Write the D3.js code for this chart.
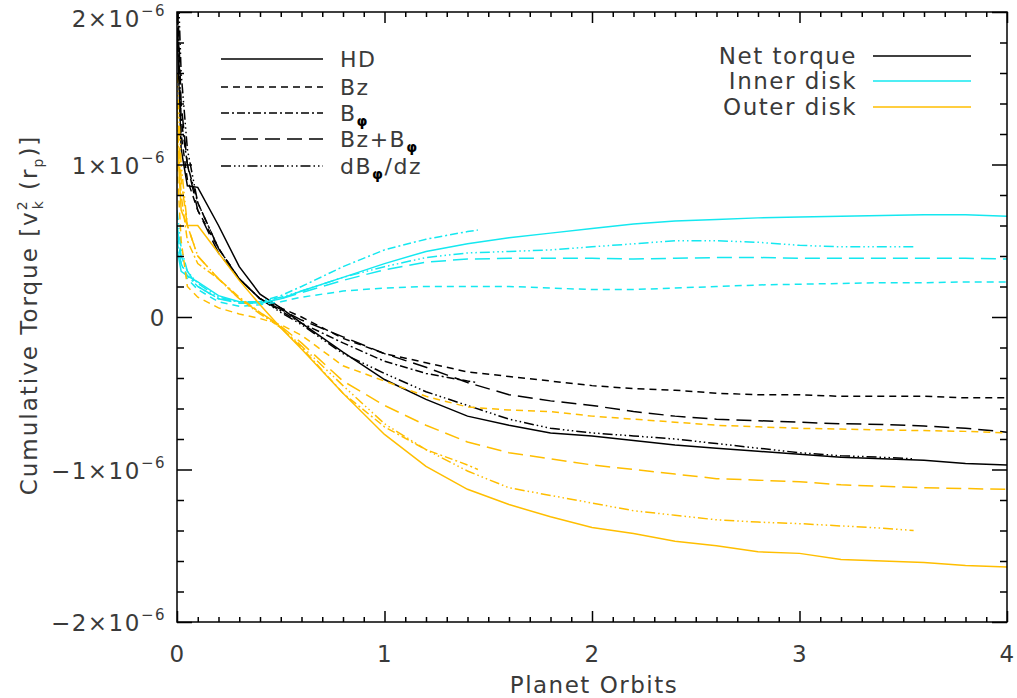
<!DOCTYPE html>
<html>
<head>
<meta charset="utf-8">
<script src="https://cdn.jsdelivr.net/npm/d3@7"></script>
<style>
  body { margin: 0; background: #fff; }
  text { font-family: "DejaVu Sans", sans-serif; fill: #3a3a3a; letter-spacing: 1.5px; }
</style>
</head>
<body>
<div id="chart"></div>
<script>
// time axis (planet orbits) for each run length
var tFull = [0, 0.02, 0.05, 0.1, 0.2, 0.3, 0.4, 0.5, 0.6, 0.8, 1.0, 1.2, 1.4, 1.6, 1.8, 2.0, 2.2, 2.4, 2.6, 2.8, 3.0, 3.2, 3.4, 3.6, 3.8, 4.0];
var tBphi = [0, 0.02, 0.05, 0.1, 0.2, 0.3, 0.4, 0.5, 0.6, 0.8, 1.0, 1.2, 1.4, 1.45];
var tDbdz = [0, 0.02, 0.05, 0.1, 0.2, 0.3, 0.4, 0.5, 0.6, 0.8, 1.0, 1.2, 1.4, 1.6, 1.8, 2.0, 2.2, 2.4, 2.6, 2.8, 3.0, 3.2, 3.4, 3.55];

// cumulative torque, units of 1e-6
// net torque
var hdNet = [1.9, 1.1, 0.86, 0.85, 0.6, 0.33, 0.15, 0.06, -0.04, -0.23, -0.41, -0.54, -0.65, -0.71, -0.76, -0.78, -0.81, -0.84, -0.86, -0.88, -0.90, -0.92, -0.93, -0.94, -0.96, -0.97];
var bzNet = [2.2, 1.2, 0.9, 0.7, 0.45, 0.25, 0.12, 0.06, 0.0, -0.14, -0.24, -0.30, -0.36, -0.39, -0.42, -0.45, -0.47, -0.48, -0.50, -0.51, -0.51, -0.52, -0.52, -0.52, -0.53, -0.53];
var bphiNet = [2.0, 1.3, 1.0, 0.75, 0.45, 0.25, 0.12, 0.04, -0.04, -0.17, -0.29, -0.37, -0.42, -0.43];
var bzbphiNet = [2.2, 1.4, 1.0, 0.7, 0.42, 0.25, 0.12, 0.05, -0.02, -0.13, -0.24, -0.33, -0.43, -0.51, -0.55, -0.58, -0.62, -0.65, -0.67, -0.68, -0.69, -0.70, -0.705, -0.715, -0.73, -0.755];
var dbdzNet = [2.4, 1.6, 1.1, 0.75, 0.45, 0.25, 0.12, 0.03, -0.05, -0.24, -0.37, -0.49, -0.58, -0.67, -0.73, -0.76, -0.78, -0.80, -0.83, -0.86, -0.89, -0.91, -0.92, -0.93];
// inner disk
var hdIn = [0.45, 0.3, 0.27, 0.23, 0.14, 0.10, 0.09, 0.12, 0.17, 0.26, 0.35, 0.43, 0.48, 0.52, 0.55, 0.58, 0.61, 0.63, 0.64, 0.65, 0.655, 0.66, 0.665, 0.67, 0.67, 0.66];
var bzIn = [0.6, 0.35, 0.25, 0.18, 0.10, 0.07, 0.08, 0.10, 0.13, 0.17, 0.19, 0.20, 0.20, 0.20, 0.19, 0.18, 0.18, 0.19, 0.20, 0.21, 0.215, 0.22, 0.225, 0.225, 0.23, 0.23];
var bphiIn = [0.5, 0.35, 0.27, 0.2, 0.12, 0.10, 0.10, 0.14, 0.20, 0.33, 0.44, 0.51, 0.56, 0.57];
var bzbphiIn = [0.6, 0.4, 0.3, 0.2, 0.12, 0.09, 0.09, 0.12, 0.16, 0.24, 0.31, 0.36, 0.38, 0.385, 0.385, 0.385, 0.38, 0.385, 0.39, 0.39, 0.385, 0.385, 0.385, 0.385, 0.385, 0.38];
var dbdzIn = [0.7, 0.45, 0.3, 0.22, 0.13, 0.10, 0.10, 0.13, 0.17, 0.26, 0.33, 0.39, 0.42, 0.43, 0.44, 0.46, 0.48, 0.50, 0.50, 0.49, 0.47, 0.46, 0.46, 0.46];
// outer disk
var hdOut = [1.2, 0.7, 0.6, 0.6, 0.42, 0.24, 0.08, -0.07, -0.21, -0.50, -0.77, -0.98, -1.13, -1.23, -1.31, -1.38, -1.42, -1.47, -1.50, -1.54, -1.55, -1.59, -1.60, -1.61, -1.63, -1.64];
var bzOut = [1.0, 0.5, 0.2, 0.13, 0.06, 0.02, -0.01, -0.05, -0.12, -0.32, -0.42, -0.52, -0.59, -0.61, -0.62, -0.65, -0.67, -0.69, -0.71, -0.72, -0.73, -0.735, -0.74, -0.745, -0.75, -0.76];
var bphiOut = [1.3, 0.8, 0.5, 0.35, 0.25, 0.13, 0.03, -0.07, -0.2, -0.5, -0.72, -0.87, -0.97, -1.0];
var bzbphiOut = [1.4, 0.9, 0.6, 0.4, 0.25, 0.12, 0.03, -0.06, -0.17, -0.42, -0.58, -0.71, -0.82, -0.89, -0.93, -0.97, -1.00, -1.03, -1.06, -1.07, -1.08, -1.10, -1.11, -1.12, -1.125, -1.13];
var dbdzOut = [1.6, 1.0, 0.6, 0.4, 0.25, 0.12, 0.02, -0.07, -0.19, -0.45, -0.70, -0.87, -1.01, -1.12, -1.17, -1.22, -1.27, -1.30, -1.33, -1.345, -1.355, -1.37, -1.385, -1.40];

var xMajor = [0, 1, 2, 3, 4];
var yMajor = [-2, -1, 0, 1, 2];
var yLabels = ["\u22122\u00d710", "\u22121\u00d710", "0", "1\u00d710", "2\u00d710"];

var colBlack = "#000000", colCyan = "#14e8f0", colOrange = "#ffbe00";
var dashes = { hd: null, bz: "7,5", bphi: "8,3,2,3", bzbphi: "15,7", dbdz: "10,3,1.5,3,1.5,3,1.5,3" };

var series = [
  { t: tFull, v: hdNet, c: colBlack, d: dashes.hd },
  { t: tFull, v: bzNet, c: colBlack, d: dashes.bz },
  { t: tBphi, v: bphiNet, c: colBlack, d: dashes.bphi },
  { t: tFull, v: bzbphiNet, c: colBlack, d: dashes.bzbphi },
  { t: tDbdz, v: dbdzNet, c: colBlack, d: dashes.dbdz },
  { t: tFull, v: hdIn, c: colCyan, d: dashes.hd },
  { t: tFull, v: bzIn, c: colCyan, d: dashes.bz },
  { t: tBphi, v: bphiIn, c: colCyan, d: dashes.bphi },
  { t: tFull, v: bzbphiIn, c: colCyan, d: dashes.bzbphi },
  { t: tDbdz, v: dbdzIn, c: colCyan, d: dashes.dbdz },
  { t: tFull, v: hdOut, c: colOrange, d: dashes.hd },
  { t: tFull, v: bzOut, c: colOrange, d: dashes.bz },
  { t: tBphi, v: bphiOut, c: colOrange, d: dashes.bphi },
  { t: tFull, v: bzbphiOut, c: colOrange, d: dashes.bzbphi },
  { t: tDbdz, v: dbdzOut, c: colOrange, d: dashes.dbdz }
];

// set the dimensions and margins of the graph
var margin = { top: 12, right: 10, bottom: 76, left: 177 },
  width = 1017 - margin.left - margin.right,
  height = 698 - margin.top - margin.bottom;

var root = d3.select("#chart")
  .append("svg")
  .attr("width", 1017)
  .attr("height", 698);

var svg = root.append("g")
  .attr("transform", "translate(" + margin.left + "," + margin.top + ")");

var x = d3.scaleLinear().domain([0, 4]).range([0, width]);
var y = d3.scaleLinear().domain([-2, 2]).range([height, 0]);

svg.append("clipPath").attr("id", "clip")
  .append("rect").attr("width", width).attr("height", height);

// curves
var line = d3.line()
  .x(function (d) { return x(d[0]); })
  .y(function (d) { return y(d[1]); });

svg.append("g").attr("clip-path", "url(#clip)")
  .selectAll("path")
  .data(series)
  .enter()
  .append("path")
  .attr("d", function (s) { return line(s.t.map(function (t, i) { return [t, s.v[i]]; })); })
  .attr("fill", "none")
  .attr("stroke", function (s) { return s.c; })
  .attr("stroke-width", 1.5)
  .attr("stroke-dasharray", function (s) { return s.d; });

// ticks on all four sides (inward)
var xMinor = d3.range(0, 41).filter(function (i) { return i % 10 !== 0; }).map(function (i) { return i / 10; });
var yMinor = d3.range(-10, 11).filter(function (i) { return i % 5 !== 0; }).map(function (i) { return i / 5; });

function styleAxis(g) {
  g.select(".domain").remove();
  g.selectAll(".tick line").attr("stroke", "#000").attr("stroke-width", 1.5);
  g.attr("font-family", null).attr("font-size", null);
}

svg.append("g").attr("transform", "translate(0," + height + ")")
  .call(d3.axisBottom(x).tickValues(xMajor).tickSize(-11).tickPadding(24).tickFormat(d3.format("d")))
  .call(styleAxis);
svg.append("g").attr("transform", "translate(0," + height + ")")
  .call(d3.axisBottom(x).tickValues(xMinor).tickSize(-5).tickFormat(""))
  .call(styleAxis);
svg.append("g")
  .call(d3.axisTop(x).tickValues(xMajor).tickSize(-11).tickFormat(""))
  .call(styleAxis);
svg.append("g")
  .call(d3.axisTop(x).tickValues(xMinor).tickSize(-5).tickFormat(""))
  .call(styleAxis);

var yAxis = svg.append("g")
  .call(d3.axisLeft(y).tickValues(yMajor).tickSize(-15).tickPadding(11).tickFormat(""))
  .call(styleAxis);
svg.append("g")
  .call(d3.axisLeft(y).tickValues(yMinor).tickSize(-7).tickFormat(""))
  .call(styleAxis);
svg.append("g").attr("transform", "translate(" + width + ",0)")
  .call(d3.axisRight(y).tickValues(yMajor).tickSize(-15).tickFormat(""))
  .call(styleAxis);
svg.append("g").attr("transform", "translate(" + width + ",0)")
  .call(d3.axisRight(y).tickValues(yMinor).tickSize(-7).tickFormat(""))
  .call(styleAxis);

svg.selectAll(".tick text").style("font-size", "23px").attr("fill", null);

// y labels with exponent
yAxis.selectAll(".tick text").each(function (d, i) {
  var t = d3.select(this).text(null).attr("dy", d === 2 ? "0.62em" : "0.38em");
  t.append("tspan").text(yLabels[i]);
  if (d !== 0) {
    t.append("tspan").text("\u22126").style("font-size", "15px").attr("dy", "-11");
  }
});

// frame
svg.append("rect")
  .attr("width", width).attr("height", height)
  .attr("fill", "none").attr("stroke", "#000").attr("stroke-width", 1.5);

// axis titles
root.append("text")
  .attr("x", 594).attr("y", 693)
  .attr("text-anchor", "middle")
  .style("font-size", "23px")
  .text("Planet Orbits");

var yt = root.append("text")
  .attr("transform", "translate(37,315) rotate(-90)")
  .attr("text-anchor", "middle")
  .style("font-size", "23px")
  .style("letter-spacing", "2px");
yt.append("tspan").text("Cumulative Torque [v");
yt.append("tspan").text("2").style("font-size", "14px").attr("dy", -10);
yt.append("tspan").text("k").style("font-size", "14px").attr("dx", -10).attr("dy", 16);
yt.append("tspan").text(" (r").attr("dy", -6);
yt.append("tspan").text("p").style("font-size", "14px").attr("dy", 6);
yt.append("tspan").text(")]").attr("dy", -6);

// legend: models
var modelKeys = ["hd", "bz", "bphi", "bzbphi", "dbdz"];
var modelY = [59, 87, 113, 139, 166];
var lg = root.append("g");
modelKeys.forEach(function (k, i) {
  lg.append("line")
    .attr("x1", 221).attr("x2", 323).attr("y1", modelY[i]).attr("y2", modelY[i])
    .attr("stroke", "#000").attr("stroke-width", 1.5)
    .attr("stroke-dasharray", dashes[k]);
});
function legText(i) {
  return lg.append("text").attr("x", 340).attr("y", modelY[i] + 8).style("font-size", "22px");
}
function phi(t) {
  t.append("tspan").text("\u03c6")
    .style("font-size", "14px").style("font-weight", "bold")
    .style("fill", "#000").attr("dy", 5);
}
legText(0).text("HD");
legText(1).text("Bz");
var t2 = legText(2);
t2.append("tspan").text("B");
phi(t2);
var t3 = legText(3);
t3.append("tspan").text("Bz+B");
phi(t3);
var t4 = legText(4);
t4.append("tspan").text("dB");
phi(t4);
t4.append("tspan").text("/dz").attr("dy", -5);

// legend: regions
var regNames = ["Net torque", "Inner disk", "Outer disk"];
var regCols = [colBlack, colCyan, colOrange];
var regY = [56, 81, 107];
regNames.forEach(function (n, i) {
  root.append("text")
    .attr("x", 857).attr("y", regY[i] + 8)
    .attr("text-anchor", "end")
    .style("font-size", "23px")
    .text(n);
  root.append("line")
    .attr("x1", 873).attr("x2", 971).attr("y1", regY[i]).attr("y2", regY[i])
    .attr("stroke", regCols[i]).attr("stroke-width", 1.5);
});
</script>
</body>
</html>
